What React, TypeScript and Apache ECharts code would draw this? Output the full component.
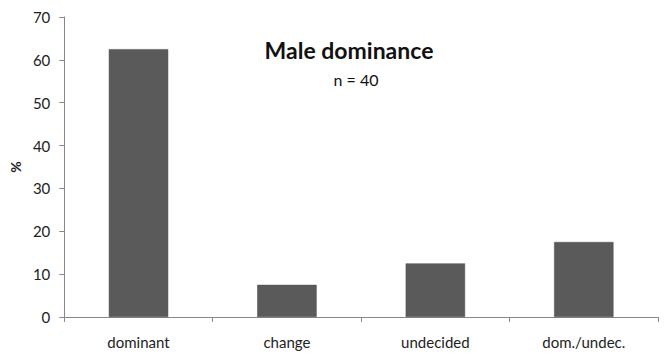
import React, { useEffect, useRef } from "react";
import * as echarts from "echarts";

const categories = ["dominant", "change", "undecided", "dom./undec."];
const values = [62.5, 7.5, 12.5, 17.5];
const titleText = "Male dominance";
const subtitleText = "n = 40";
const yAxisName = "%";

export default function App() {
  const ref = useRef<HTMLDivElement>(null);
  useEffect(() => {
    document.body.style.margin = "0";
    const chart = echarts.init(ref.current!, null, { renderer: "svg" });
    const font = "Lato, 'Open Sans', sans-serif";
    chart.setOption({
      animation: false,
      backgroundColor: "#ffffff",
      title: [
        {
          text: titleText,
          left: 344,
          top: 33,
          textAlign: "center",
          textStyle: { fontFamily: font, fontSize: 23, fontWeight: "bold", color: "#111" },
        },
        {
          text: subtitleText,
          left: 351,
          top: 66,
          textAlign: "center",
          textStyle: { fontFamily: font, fontSize: 16, fontWeight: "normal", color: "#111" },
        },
      ],
      grid: { left: 59, right: 8, top: 17, bottom: 41, containLabel: false },
      xAxis: {
        type: "category",
        data: categories,
        axisLine: { lineStyle: { color: "#888", width: 1 } },
        axisTick: { show: true, alignWithLabel: false, length: 5, lineStyle: { color: "#888" } },
        axisLabel: { fontFamily: font, fontSize: 15, color: "#222", margin: 17 },
      },
      yAxis: {
        type: "value",
        min: 0,
        max: 70,
        interval: 10,
        name: yAxisName,
        nameLocation: "middle",
        nameRotate: 90,
        nameGap: 39,
        nameTextStyle: { fontFamily: font, fontSize: 14, fontWeight: "bold", color: "#222" },
        axisLine: { show: true, lineStyle: { color: "#888", width: 1 } },
        axisTick: { show: true, length: 5, lineStyle: { color: "#888" } },
        splitLine: { show: false },
        axisLabel: { fontFamily: font, fontSize: 15, color: "#222", margin: 14 },
      },
      series: [
        {
          type: "bar",
          data: values,
          barWidth: "40%",
          itemStyle: { color: "#5a5a5a", borderColor: "#4a4a4a", borderWidth: 0.5 },
        },
      ],
    });
    return () => chart.dispose();
  }, []);
  return <div ref={ref} style={{ width: 666, height: 358 }} />;
}
